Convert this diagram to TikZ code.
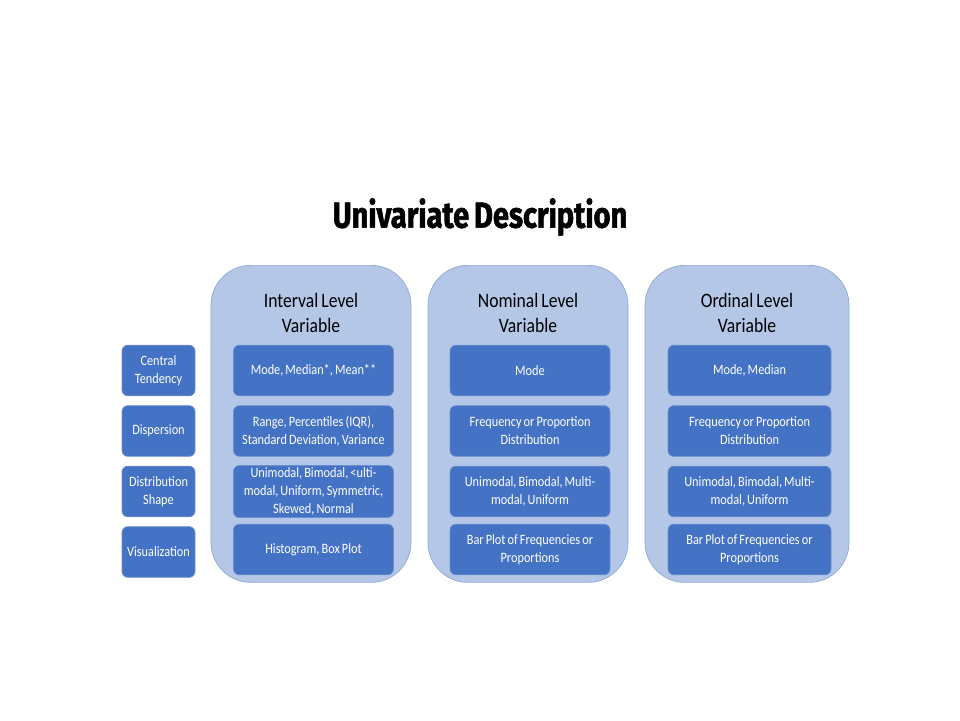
\documentclass[tikz,border=0pt]{standalone}
\usepackage{fontspec}
\setmainfont{Carlito}[FakeStretch=0.86, WordSpace=0.75]
\newfontfamily\titlefont{Fira Sans}[FakeStretch=0.8, WordSpace=0.7, BoldFeatures={FakeBold=1.5}]
\usetikzlibrary{positioning}

\definecolor{panelfill}{HTML}{B4C7E7}
\definecolor{paneldraw}{HTML}{8FA9D6}
\definecolor{cellfill}{HTML}{4472C4}
\definecolor{celldraw}{HTML}{6C8FD0}

\begin{document}
\begin{tikzpicture}[x=0.03cm, y=-0.03cm]
\tikzset{
  panel/.style={rectangle, rounded corners=34pt, draw=paneldraw, line width=0.6pt,
    fill=panelfill, minimum height=9.51cm, anchor=north},
  header/.style={font=\fontsize{17.5pt}{21pt}\selectfont, align=center, text=black},
  cell/.style={rectangle, rounded corners=5pt, draw=celldraw, line width=0.6pt,
    fill=cellfill, minimum height=1.52cm, align=center, text=white,
    font=\fontsize{12.2pt}{15.2pt}\selectfont, inner sep=2pt},
  rowcell/.style={cell, minimum width=2.19cm},
  wide/.style={cell, minimum width=4.8cm},
  wider/.style={cell, minimum width=4.89cm}
}
\useasboundingbox (0,0) rectangle (960,720);

% title
\node[font=\titlefont\bfseries\fontsize{31pt}{33pt}\selectfont] (title) at (480,217) {Univariate Description};

% variable panels
\node[panel, minimum width=6cm] (interval) at (311,265) {};
\node[panel, minimum width=6cm] (nominal) at (528,265) {};
\node[panel, minimum width=6.12cm] (ordinal) at (747,265) {};

\node[header] (hint) at (311,313) {Interval Level\\Variable};
\node[header] (hnom) at (528,313) {Nominal Level\\Variable};
\node[header] (hord) at (747,313) {Ordinal Level\\Variable};

% row labels
\node[rowcell] (central) at (158.5,370.5) {Central\\Tendency};
\node[rowcell] (dispersion) at (158.5,431) {Dispersion};
\node[rowcell] (shape) at (158.5,491.5) {Distribution\\Shape};
\node[rowcell] (visual) at (158.5,552) {Visualization};

% interval column
\node[wide] (intcent) at (313.5,370.5) {Mode, Median*, Mean**};
\node[wide] (intdisp) at (313.5,431) {Range, Percentiles (IQR),\\Standard Deviation, Variance};
\node[wide] (intshape) at (313.5,491.5) {Unimodal, Bimodal, <ulti-\\modal, Uniform, Symmetric,\\Skewed, Normal};
\node[wide] (intvis) at (313.5,549.5) {Histogram, Box Plot};

% nominal column
\node[wide] (nomcent) at (530,370.5) {Mode};
\node[wide] (nomdisp) at (530,431) {Frequency or Proportion\\Distribution};
\node[wide] (nomshape) at (530,491.5) {Unimodal, Bimodal, Multi-\\modal, Uniform};
\node[wide] (nomvis) at (530,549.5) {Bar Plot of Frequencies or\\Proportions};

% ordinal column
\node[wider] (ordcent) at (749.5,370.5) {Mode, Median};
\node[wider] (orddisp) at (749.5,431) {Frequency or Proportion\\Distribution};
\node[wider] (ordshape) at (749.5,491.5) {Unimodal, Bimodal, Multi-\\modal, Uniform};
\node[wider] (ordvis) at (749.5,549.5) {Bar Plot of Frequencies or\\Proportions};
\end{tikzpicture}
\end{document}
